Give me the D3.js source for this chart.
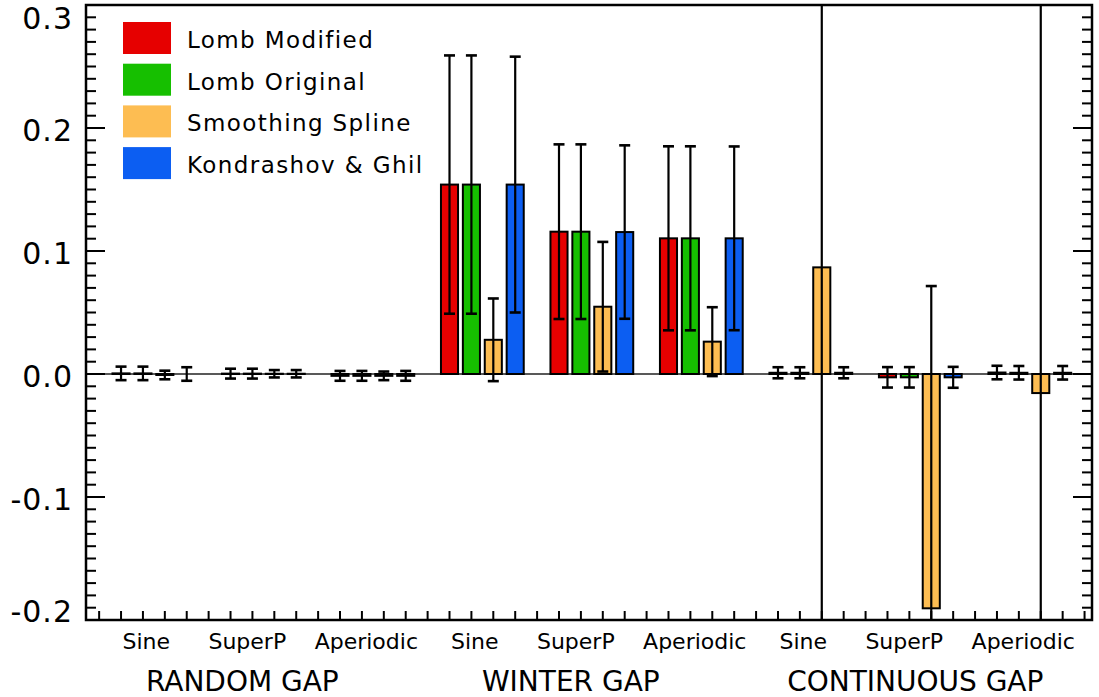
<!DOCTYPE html>
<html>
<head>
<meta charset="utf-8">
<script src="https://cdn.jsdelivr.net/npm/d3@7"></script>
<style>
  html, body { margin: 0; padding: 0; background: #fff; }
  svg { display: block; }
  text { font-family: "DejaVu Sans", sans-serif; font-weight: normal; fill: #000; }
</style>
</head>
<body>
<svg id="chart" width="1099" height="697"></svg>
<script>
// ---------------- data ----------------
const gaps = ["RANDOM GAP", "WINTER GAP", "CONTINUOUS GAP"];
const signals = ["Sine", "SuperP", "Aperiodic"];
const seriesNames = ["Lomb Modified", "Lomb Original", "Smoothing Spline", "Kondrashov & Ghil"];
const seriesColors = ["#e60000", "#16bf00", "#fdbd52", "#0c5ef2"];

// values in order: random(sine, superP, aperiodic), winter(...), continuous(...)
const lombModified    = [0.0005, 0.0003, -0.0015, 0.154, 0.1157, 0.1103, 0.001, -0.0027, 0.0012];
const lombModifiedErr = [0.0055, 0.0040, 0.0040, 0.105, 0.0710, 0.0748, 0.0045, 0.0083, 0.0055];
const lombOriginal    = [0.0005, 0.0003, -0.0015, 0.154, 0.1157, 0.1103, 0.001, -0.0027, 0.0010];
const lombOriginalErr = [0.0055, 0.0040, 0.0040, 0.105, 0.0710, 0.0748, 0.0045, 0.0083, 0.0055];
const smoothSpline    = [-0.0008, 0.0002, -0.0015, 0.0278, 0.0547, 0.0263, 0.0867, -0.1905, -0.0155];
const smoothSplineErr = [0.0035, 0.0030, 0.0035, 0.0336, 0.0527, 0.0280, 0.60, 0.262, 0.60];
const kondrashovGhil  = [0.0000, 0.0002, -0.0015, 0.154, 0.1154, 0.1103, 0.001, -0.0027, 0.0010];
const kondrashovGhilErr = [0.0055, 0.0030, 0.0040, 0.104, 0.0705, 0.0747, 0.0045, 0.0085, 0.0055];

const yTicks = [-0.2, -0.1, 0.0, 0.1, 0.2, 0.3];
const yTickLabels = ["-0.2", "-0.1", "0.0", "0.1", "0.2", "0.3"];

// ---------------- layout ----------------
const L = 86, R = 1092, T = 5, B = 620;
const svg = d3.select("#chart");

const x = d3.scaleLinear().domain([-1.6, 44.34]).range([L, R]);
const y = d3.scaleLinear().domain([-0.2, 0.3]).range([B, T]);
const slotW = x(1) - x(0);
const barW = slotW * 0.78;

const allVals = [lombModified, lombOriginal, smoothSpline, kondrashovGhil];
const allErrs = [lombModifiedErr, lombOriginalErr, smoothSplineErr, kondrashovGhilErr];

const bars = [];
for (let g = 0; g < 9; g++) {
  for (let s = 0; s < 4; s++) {
    bars.push({ slot: g * 5 + s, v: allVals[s][g], e: allErrs[s][g], color: seriesColors[s] });
  }
}

svg.append("defs").append("clipPath").attr("id", "plotclip")
  .append("rect").attr("x", L).attr("y", T).attr("width", R - L).attr("height", B - T);

const plot = svg.append("g").attr("clip-path", "url(#plotclip)");

// zero line
plot.append("line")
  .attr("x1", L).attr("x2", R).attr("y1", y(0)).attr("y2", y(0))
  .attr("stroke", "#222").attr("stroke-width", 1.5);

// bars
plot.selectAll("rect.bar").data(bars).enter().append("rect")
  .attr("class", "bar")
  .attr("x", d => x(d.slot) - barW / 2)
  .attr("width", barW)
  .attr("y", d => y(Math.max(0, d.v)))
  .attr("height", d => Math.abs(y(d.v) - y(0)))
  .attr("fill", d => d.color)
  .attr("stroke", "#000")
  .attr("stroke-width", 2);

// error bars
const capW = 11;
const eb = plot.selectAll("g.err").data(bars).enter().append("g").attr("class", "err")
  .attr("stroke", "#000").attr("stroke-width", 2.2);
eb.append("line")
  .attr("x1", d => x(d.slot)).attr("x2", d => x(d.slot))
  .attr("y1", d => y(d.v + d.e)).attr("y2", d => y(d.v - d.e));
eb.append("line")
  .attr("x1", d => x(d.slot) - capW / 2).attr("x2", d => x(d.slot) + capW / 2)
  .attr("y1", d => y(d.v + d.e)).attr("y2", d => y(d.v + d.e)).attr("stroke-width", 2.6);
eb.append("line")
  .attr("x1", d => x(d.slot) - capW / 2).attr("x2", d => x(d.slot) + capW / 2)
  .attr("y1", d => y(d.v - d.e)).attr("y2", d => y(d.v - d.e)).attr("stroke-width", 2.6);

// ---------------- axes ----------------
const axes = svg.append("g").attr("stroke", "#000");
axes.append("rect").attr("x", L).attr("y", T).attr("width", R - L).attr("height", B - T)
  .attr("fill", "none").attr("stroke-width", 2.5);

const minor = d3.range(-20, 31).map(i => i / 100);
minor.forEach(v => {
  const major = (Math.round(v * 100) % 10 === 0);
  const len = major ? 19 : 10;
  axes.append("line").attr("x1", L).attr("x2", L + len).attr("y1", y(v)).attr("y2", y(v)).attr("stroke-width", 2);
  axes.append("line").attr("x1", R).attr("x2", R - len).attr("y1", y(v)).attr("y2", y(v)).attr("stroke-width", 2);
});

d3.range(-1, 45).forEach(i => {
  axes.append("line").attr("x1", x(i)).attr("x2", x(i)).attr("y1", B).attr("y2", B - 9).attr("stroke-width", 2);
});

// y labels
const ylab = svg.append("g");
yTicks.forEach((v, i) => {
  let base = y(v) + 13;
  base = Math.max(28.5, Math.min(621.5, base));
  ylab.append("text").attr("x", 73).attr("y", base)
    .attr("text-anchor", "end")
    .style("font-size", "30px").style("letter-spacing", "1px")
    .text(yTickLabels[i]);
});

// category and group labels
const catOffsets = [-128, -27, 92];
const grpOffsets = [-32, -32, -16];
gaps.forEach((gname, g) => {
  const gc = x(g * 15 + 7);
  signals.forEach((sname, s) => {
    svg.append("text").attr("x", gc + catOffsets[s]).attr("y", 649)
      .attr("text-anchor", "middle").style("font-size", "22px")
      .text(sname);
  });
  svg.append("text").attr("x", gc + grpOffsets[g]).attr("y", 691)
    .attr("text-anchor", "middle").style("font-size", "28px")
    .text(gname);
});

// legend
const leg = svg.append("g");
seriesNames.forEach((name, i) => {
  const cy = 38 + i * 41.7;
  leg.append("rect").attr("x", 123).attr("y", cy - 16).attr("width", 48).attr("height", 32)
    .attr("fill", seriesColors[i]);
  leg.append("text").attr("x", 187).attr("y", cy + 10)
    .style("font-size", "23px").style("letter-spacing", "1.4px")
    .text(name);
});
</script>
</body>
</html>
